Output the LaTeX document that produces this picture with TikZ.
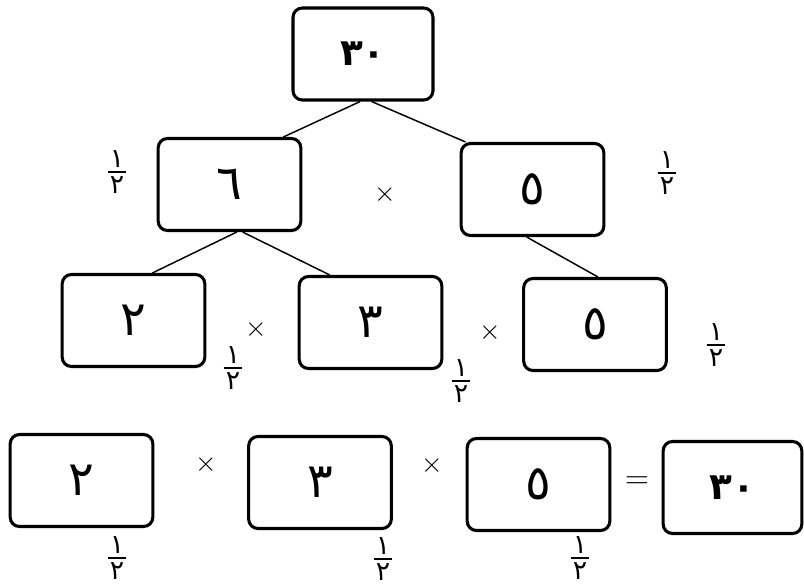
\documentclass[tikz,border=0pt]{standalone}
\usepackage{fontspec}
\newfontfamily\arabicfont[Script=Arabic]{DejaVu Sans}
\usetikzlibrary{calc}
\tikzset{
  numbox/.style={draw, line width=2.3pt, rounded corners=7pt, minimum width=107pt, minimum height=69pt, inner sep=0pt,
    font=\arabicfont\fontsize{36}{36}\selectfont},
  printed/.style={font=\arabicfont\bfseries\fontsize{28}{28}\selectfont},
  link/.style={line width=1.1pt},
  opsign/.style={inner sep=0pt, font=\fontsize{22}{22}\selectfont},
  eqsign/.style={inner sep=0pt, font=\fontsize{30}{30}\selectfont},
  halfmark/.style={inner sep=0pt, font=\arabicfont\fontsize{20}{20}\selectfont}
}
\newcommand\halfm{\vbox{\offinterlineskip\hbox to 14pt{\hss ١\hss}\kern3pt\hrule width 14pt height 1pt\kern3pt\hbox to 14pt{\hss ٢\hss}}}
\begin{document}
\begin{tikzpicture}[x=0.75pt, y=-0.75pt]
\useasboundingbox (0,0) rectangle (804,585);
% level 1
\node[numbox, printed, minimum width=105pt] (A) at (363,54) {٣٠};
% level 2
\node[numbox] (B) at (229.5,184.5) {٦};
\node[numbox] (C) at (532.5,189.5) {٥};
% level 3
\node[numbox] (D) at (133.5,320.5) {٢};
\node[numbox] (E) at (370.5,322.5) {٣};
\node[numbox] (F) at (595,324.5) {٥};
% bottom row
\node[numbox] (G) at (81.5,480.5) {٢};
\node[numbox] (H) at (320,482.5) {٣};
\node[numbox] (I) at (538.5,484.5) {٥};
\node[numbox, printed, minimum width=104pt] (J) at (732.5,487.5) {٣٠};
% connectors
\draw[link] ($(A.south west)!0.48!(A.south east)$) -- ($(B.north west)!0.87!(B.north east)$);
\draw[link] ($(A.south west)!0.56!(A.south east)$) -- ($(C.north west)!0.04!(C.north east)$);
\draw[link] ($(B.south west)!0.55!(B.south east)$) -- ($(D.north west)!0.63!(D.north east)$);
\draw[link] ($(B.south west)!0.59!(B.south east)$) -- ($(E.north west)!0.22!(E.north east)$);
\draw[link] ($(C.south west)!0.46!(C.south east)$) -- ($(F.north west)!0.52!(F.north east)$);
% operators
\node[opsign] (x1) at (385,195) {$\times$};
\node[opsign] (x2) at (256,330) {$\times$};
\node[opsign] (x3) at (490,333) {$\times$};
\node[opsign] (x4) at (206,465) {$\times$};
\node[opsign] (x5) at (432,466) {$\times$};
\node[eqsign] (eq) at (637,483) {$=$};
% half-marks
\node[halfmark] (h1) at (117,172) {\halfm};
\node[halfmark] (h2) at (667,173) {\halfm};
\node[halfmark] (h3) at (233,368) {\halfm};
\node[halfmark] (h4) at (461,381) {\halfm};
\node[halfmark] (h5) at (716,345) {\halfm};
\node[halfmark] (h6) at (117,558) {\halfm};
\node[halfmark] (h7) at (383,559) {\halfm};
\node[halfmark] (h8) at (580,558) {\halfm};
\end{tikzpicture}
\end{document}
